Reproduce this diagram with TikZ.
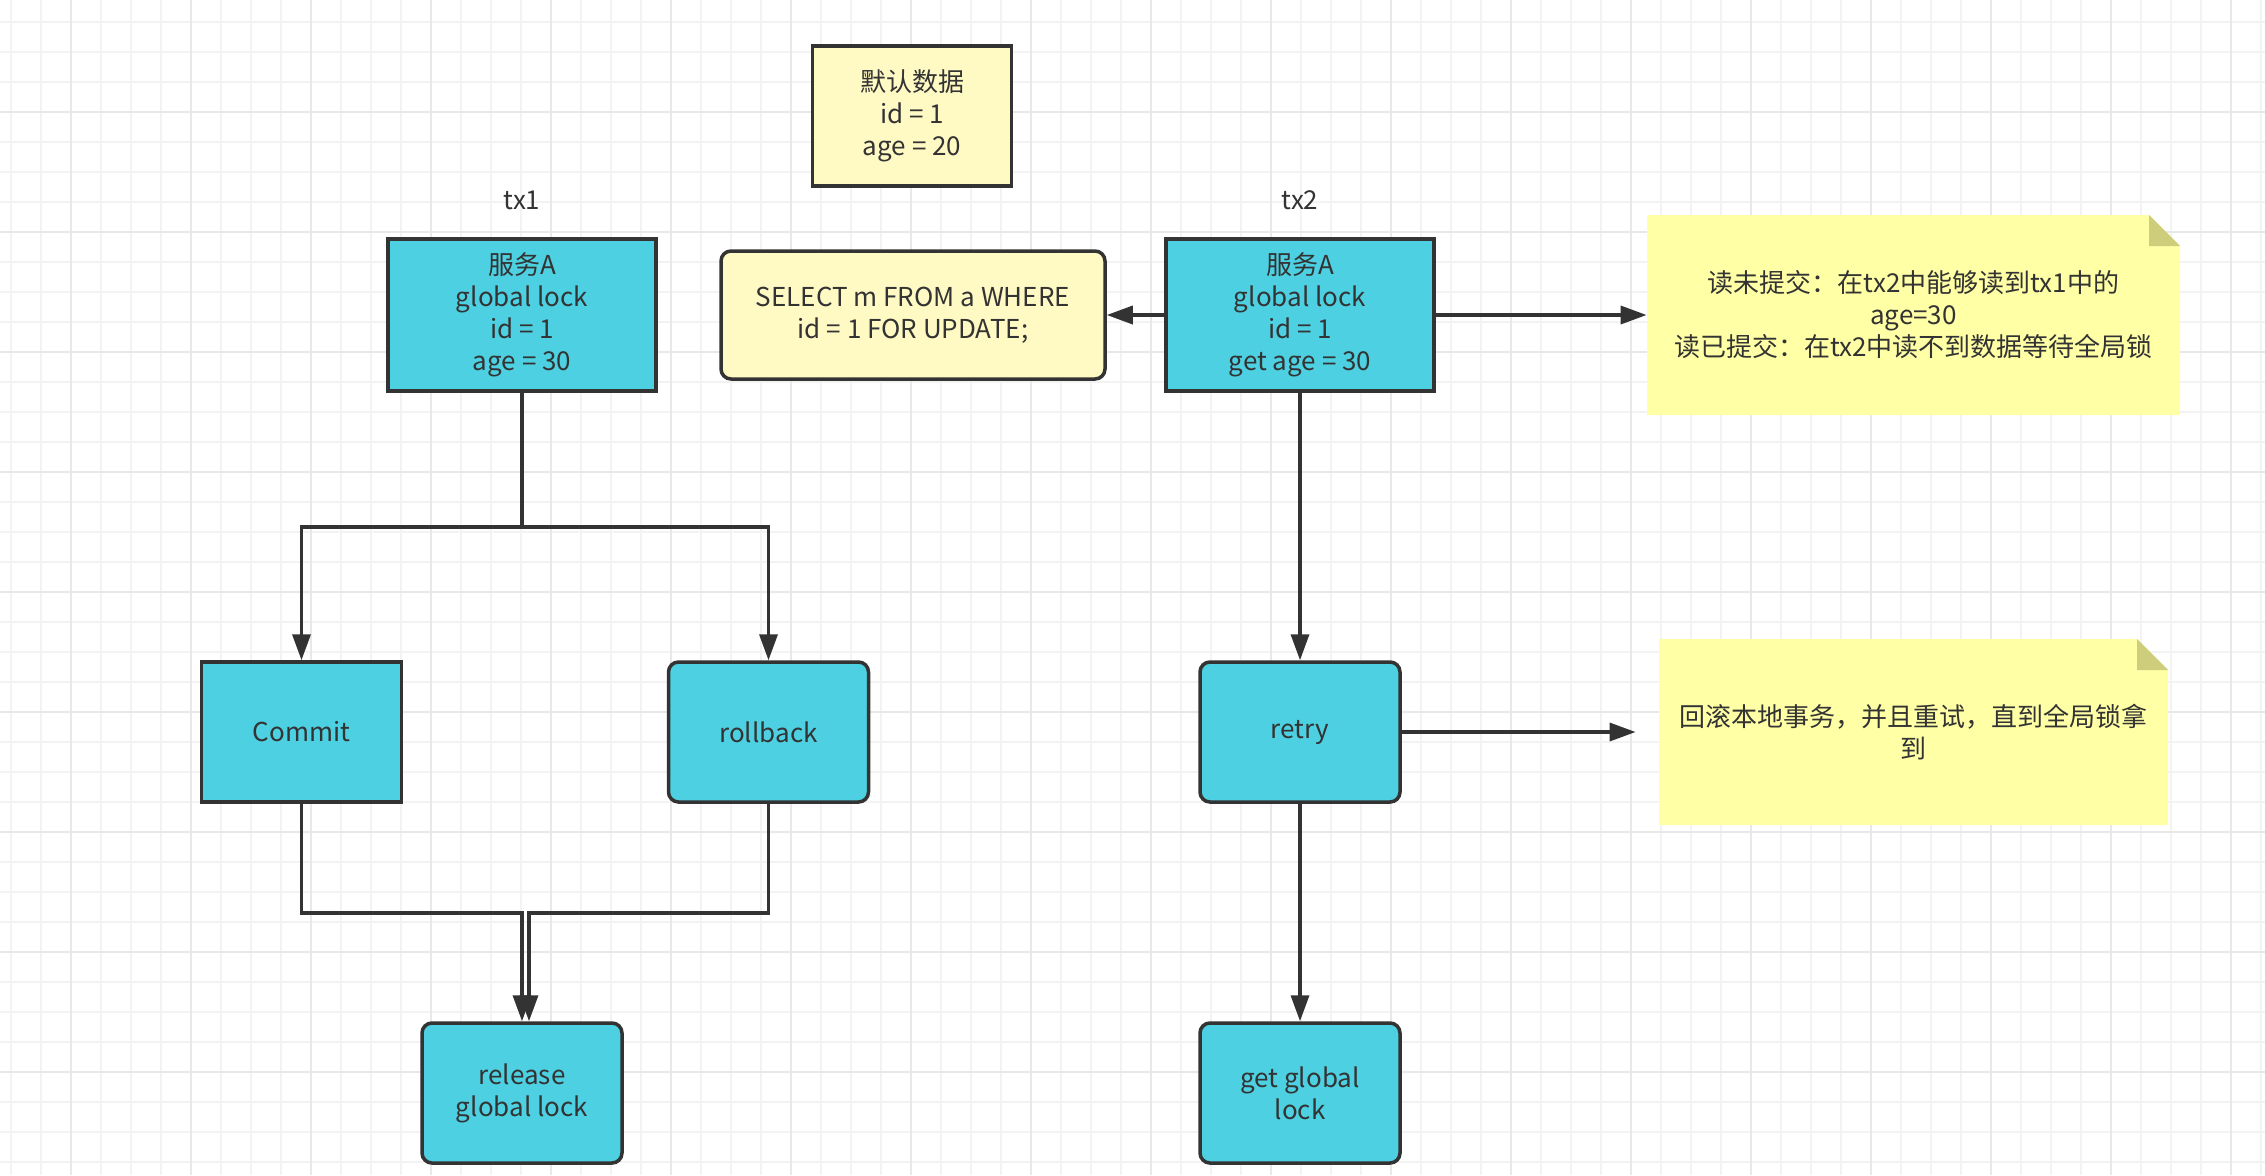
\documentclass[tikz,border=0pt]{standalone}
\usepackage{fontspec}
\setmainfont{Noto Sans CJK SC}
\usepackage{tikz}
\usetikzlibrary{arrows.meta, positioning, calc}
\definecolor{ink}{HTML}{333333}
\definecolor{cyanbox}{HTML}{4DD0E1}
\definecolor{paper}{HTML}{FFF9C4}
\definecolor{notefill}{HTML}{FFFFA6}
\definecolor{notefold}{HTML}{CDCD7C}
\definecolor{gridminor}{HTML}{F3F3F3}
\definecolor{gridmajor}{HTML}{E8E8E8}

\begin{document}
\begin{tikzpicture}[
    x=0.5pt, y=-0.5pt,
    box/.style={draw=ink, line width=1.75pt, fill=cyanbox, text=ink,
                minimum width=100pt, minimum height=70pt, inner sep=0pt,
                align=center, font=\fontsize{13pt}{16pt}\selectfont},
    wide/.style={minimum width=134pt, minimum height=76pt},
    soft/.style={rounded corners=5pt},
    tag/.style={text=ink, font=\fontsize{13pt}{16pt}\selectfont},
    note/.style={text=ink, inner sep=0pt, align=center,
                 font=\fontsize{13pt}{16pt}\selectfont,
                 path picture={
                   \fill[notefill] (path picture bounding box.north west)
                     -- ([xshift=-15.5pt]path picture bounding box.north east)
                     -- ([yshift=-15.5pt]path picture bounding box.north east)
                     -- (path picture bounding box.south east)
                     -- (path picture bounding box.south west) -- cycle;
                   \fill[notefold] ([xshift=-15.5pt]path picture bounding box.north east)
                     -- ([xshift=-15.5pt,yshift=-15.5pt]path picture bounding box.north east)
                     -- ([yshift=-15.5pt]path picture bounding box.north east) -- cycle;}},
    wire/.style={draw=ink, line width=1.75pt},
    arrow/.style={-{Triangle[length=13pt,width=9pt]}, draw=ink, line width=1.75pt},
]
    \useasboundingbox (0,0) rectangle (2265,1175);
    \fill[white] (0,0) rectangle (2265,1175);
    \foreach \gx in {11,41,...,2261}
        \draw[gridminor, line width=0.8pt] (\gx,0) -- (\gx,1175);
    \foreach \gy in {22,52,...,1162}
        \draw[gridminor, line width=0.8pt] (0,\gy) -- (2265,\gy);
    \foreach \gx in {71,191,...,2231}
        \draw[gridmajor, line width=1pt] (\gx,0) -- (\gx,1175);
    \foreach \gy in {112,232,...,1072}
        \draw[gridmajor, line width=1pt] (0,\gy) -- (2265,\gy);

    \node[box, fill=paper, minimum width=99.5pt] (seed) at (912,116) {默认数据\\id = 1\\age = 20};
    \node[tag] (tx1tag) at (522,200) {tx1};
    \node[box, wide] (tx1) at (522,315) {服务A\\global lock\\id = 1\\age = 30};
    \node[box, fill=paper, soft, minimum width=192pt, minimum height=64pt] (query) at (913,315)
        {SELECT m FROM a WHERE\\id = 1 FOR UPDATE;};
    \node[tag] (tx2tag) at (1300,200) {tx2};
    \node[box, wide] (tx2) at (1300,315) {服务A\\global lock\\id = 1\\get age = 30};
    \node[note, minimum width=266.5pt, minimum height=100pt] (memo1) at (1913.5,315)
        {读未提交：在tx2中能够读到tx1中的\\age=30\\读已提交：在tx2中读不到数据等待全局锁};
    \node[box] (commit) at (301.5,732) {Commit};
    \node[box, soft] (rollback) at (768.5,732) {rollback};
    \node[box, soft] (release) at (522,1093) {release\\global lock};
    \node[box, soft] (retry) at (1300,732) {retry};
    \node[box, soft] (getlock) at (1300,1093) {get global\\lock};
    \node[note, minimum width=254.5pt, minimum height=93pt] (memo2) at (1913.5,732)
        {回滚本地事务，并且重试，直到全局锁拿\\到};

    \coordinate (fork) at (522,527);
    \coordinate (joinL) at (522,913);
    \coordinate (joinR) at (529,913);
    \draw[wire] (tx1) -- (fork);
    \draw[arrow] (fork) -| (commit);
    \draw[arrow] (fork) -| (rollback);
    \draw[arrow] (commit) |- (joinL) -- (release);
    \draw[arrow] (rollback) |- (joinR) -- (joinR |- release.north);

    \foreach \a/\b in {tx2/query, tx2/memo1, tx2/retry, retry/getlock}
        \draw[arrow] (\a) -- (\b);
    \draw[arrow, shorten >=11.5pt] (retry) -- (memo2);
\end{tikzpicture}
\end{document}
